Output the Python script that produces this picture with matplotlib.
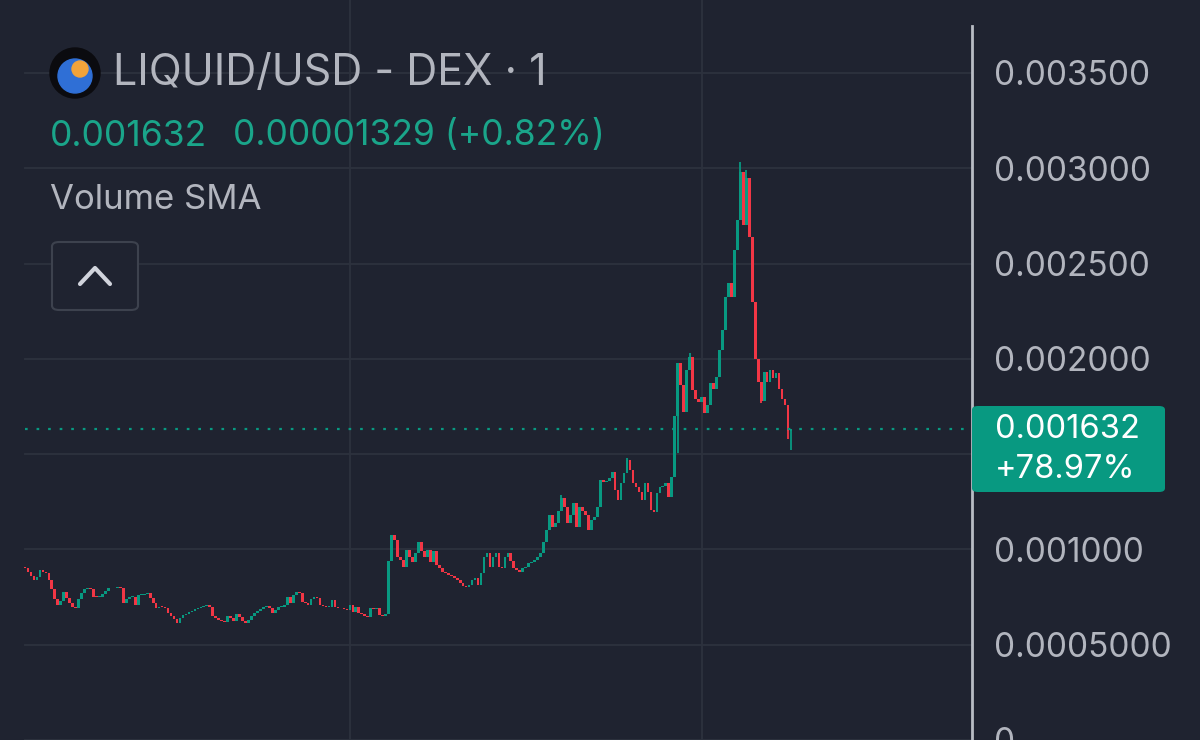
import matplotlib
matplotlib.use("Agg")
import matplotlib.pyplot as plt
from matplotlib.patches import FancyBboxPatch, Circle
from matplotlib.lines import Line2D
import numpy as np

plt.rcParams['font.family'] = ['Inter', 'DejaVu Sans']

# 1-minute closes, in millionths of a USD
closes_u = [
    902, 880, 860, 840, 855, 890, 880, 878, 840, 790,
    740, 710, 730, 778, 745, 720, 700, 693, 740, 771,
    790, 798, 790, 750, 748, 750, 765, 780, 798, 795,
    800, 803, 798, 719, 740, 750, 750, 708, 761, 762,
    766, 770, 745, 720, 693, 700, 698, 690, 666, 650,
    635, 614, 640, 656, 660, 672, 676, 685, 693, 700,
    703, 708, 700, 650, 640, 630, 625, 619, 650, 640,
    622, 660, 645, 625, 614, 630, 650, 666, 675, 685,
    698, 702, 690, 665, 680, 698, 700, 710, 750, 720,
    760, 777, 770, 724, 718, 708, 740, 750, 745, 708,
    705, 698, 700, 735, 698, 690, 693, 688, 682, 708,
    672, 700, 666, 660, 650, 645, 690, 685, 695, 655,
    648, 660, 940, 1076, 1050, 960, 944, 908, 997, 960,
    934, 981, 1039, 990, 960, 997, 934, 990, 918, 902,
    881, 878, 866, 860, 850, 840, 824, 810, 803, 813,
    840, 850, 813, 876, 960, 981, 908, 960, 981, 908,
    902, 960, 981, 940, 902, 890, 881, 900, 908, 929,
    935, 944, 960, 981, 1039, 1100, 1181, 1118, 1139, 1200,
    1270, 1223, 1139, 1180, 1244, 1118, 1223, 1200, 1181, 1102,
    1154, 1170, 1223, 1364, 1354, 1360, 1375, 1406, 1312, 1259,
    1348, 1401, 1469, 1417, 1348, 1328, 1300, 1259, 1348, 1300,
    1207, 1196, 1296, 1328, 1335, 1348, 1275, 1380, 1700, 1978,
    1860, 1720, 1940, 2010, 1836, 1790, 1773, 1800, 1716, 1760,
    1873, 1840, 1905, 2046, 2151, 2324, 2400, 2324, 2571, 2728,
    2980, 2700, 2950, 2640, 2300, 2000, 1880, 1780, 1930, 1880,
    1941, 1900, 1926, 1840, 1790, 1760, 1619, 1632,
]
first_open_u = 910
# visible wicks that stick out of the bodies: candle index -> value
wick_high_u = {180: 1285, 202: 1480, 223: 2030, 240: 3033, 242: 2990}
wick_low_u = {219: 1506, 247: 1768, 256: 1580, 257: 1522}

time_grid_idx = [109, 227]
price_ticks = [0, 0.0005, 0.001, 0.0015, 0.002, 0.0025, 0.003, 0.0035]
# the 0.0015 label sits under the last-price badge
price_tick_labels = ['0', '0.0005000', '0.001000', '',
                     '0.002000', '0.002500', '0.003000', '0.003500']

last_price = '0.001632'
last_change = '0.00001329 (+0.82%)'
day_change = '+78.97%'

BG = '#1f2330'
GRID = '#2d323e'
GREEN = '#089981'
TXT_GREEN = '#1aa58a'
RED = '#f23645'
TEXT = '#b2b5be'

W, H = 1200, 740
closes = np.array(closes_u) * 1e-6
opens = np.concatenate([[first_open_u * 1e-6], closes[:-1]])
highs = np.maximum(opens, closes)
lows = np.minimum(opens, closes)
for k, v in wick_high_u.items():
    highs[k] = v * 1e-6
for k, v in wick_low_u.items():
    lows[k] = v * 1e-6
n = len(closes)
idx = np.arange(n)
up = closes >= opens
colors = np.where(up, GREEN, RED)

fig = plt.figure(figsize=(12, 7.4), dpi=100, facecolor=BG)
ax = fig.add_axes([0, 0, 972 / W, 1])
ax.set_facecolor(BG)

# pixel layout: first candle at x=25, last at x=791
step = (791 - 25) / (n - 1)
ax.set_xlim(-25 / step, (972 - 25) / step)
ax.set_ylim(0, 740 * 0.0005 / 95.3)

for t in price_ticks:
    ax.axhline(t, xmin=25 / 972, color=GRID, lw=1.3, zorder=0)
for t in time_grid_idx:
    ax.axvline(t, color=GRID, lw=1.3, zorder=0)

ax.vlines(idx, lows, highs, colors=colors, lw=1.3, zorder=2)
body = np.maximum(np.abs(closes - opens), 5e-6)
ax.bar(idx, body, bottom=np.minimum(opens, closes), width=0.9,
       color=colors, linewidth=0, zorder=3)

ax.axhline(closes[-1], xmin=25 / 972, color=GREEN, lw=1.6,
           linestyle=(0, (1.2, 4)), zorder=4)

for s in ax.spines.values():
    s.set_visible(False)
ax.set_xticks([])
ax.yaxis.tick_right()
ax.set_yticks(price_ticks)
ax.set_yticklabels(price_tick_labels)
ax.tick_params(axis='y', length=0, pad=16, labelsize=24, labelcolor=TEXT)


def px(x, y):
    return x / W, 1 - y / H


def inch(x, y):
    return x / 100, (H - y) / 100


# right axis line
fig.add_artist(Line2D([972 / W, 972 / W], [0, 1 - 26 / H], color='#b8bcc4',
                      lw=2, transform=fig.transFigure))

# header: round token logo
fig.add_artist(Circle(inch(75, 73), 0.25, transform=fig.dpi_scale_trans,
                      color='#0b0b0f'))
fig.add_artist(Circle(inch(75, 76), 0.17, transform=fig.dpi_scale_trans,
                      color='#2f6fd6'))
fig.add_artist(Circle(inch(80, 69), 0.08, transform=fig.dpi_scale_trans,
                      color='#f2a33a'))
fig.text(*px(113, 74), 'LIQUID/USD - DEX · 1', color=TEXT, fontsize=31,
         va='center', ha='left')
fig.text(*px(50, 136), last_price, color=TXT_GREEN, fontsize=25.5,
         va='center', ha='left')
fig.text(*px(233, 136), last_change, color=TXT_GREEN, fontsize=25.5,
         va='center', ha='left')
fig.text(*px(50, 200), 'Volume SMA', color=TEXT, fontsize=25,
         va='center', ha='left')

fig.add_artist(FancyBboxPatch(px(52, 310), 86 / W, 68 / H,
                              boxstyle='round,pad=0,rounding_size=0.006',
                              transform=fig.transFigure, facecolor=BG,
                              edgecolor='#3d424e', lw=1.5))
fig.add_artist(Line2D([80 / W, 95 / W, 110 / W],
                      [1 - 284 / H, 1 - 268 / H, 1 - 284 / H],
                      color='#d1d4dc', lw=3, transform=fig.transFigure,
                      solid_capstyle='round', solid_joinstyle='round'))

# last price badge
fig.add_artist(FancyBboxPatch(px(972, 492), 193 / W, 86 / H,
                              boxstyle='round,pad=0,rounding_size=0.005',
                              transform=fig.transFigure, facecolor=GREEN,
                              edgecolor='none', zorder=5))
fig.text(*px(995, 429), last_price, color='white', fontsize=23.5,
         va='center', ha='left', zorder=6)
fig.text(*px(995, 469), day_change, color='white', fontsize=23.5,
         va='center', ha='left', zorder=6)

fig.savefig('out.png', dpi=100, facecolor=BG)
